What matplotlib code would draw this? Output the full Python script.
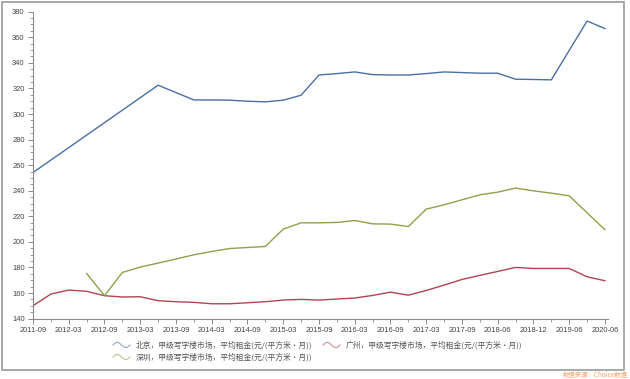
import numpy as np
import matplotlib
matplotlib.use("Agg")
import matplotlib.pyplot as plt
from matplotlib.lines import Line2D
from matplotlib.patches import Rectangle

plt.rcParams['font.family'] = ['Liberation Sans', 'Noto Sans CJK SC', 'DejaVu Sans']

# quarterly observation dates (only every other one is labelled on the axis)
dates = ['2011-09', '2011-12', '2012-03', '2012-06', '2012-09', '2012-12',
         '2013-03', '2013-06', '2013-09', '2013-12', '2014-03', '2014-06',
         '2014-09', '2014-12', '2015-03', '2015-06', '2015-09', '2015-12',
         '2016-03', '2016-06', '2016-09', '2016-12', '2017-03', '2017-06',
         '2017-09', '2017-12', '2018-06', '2018-09', '2018-12', '2019-03',
         '2019-06', '2019-12', '2020-06']

nan = np.nan
beijing = [254.2, nan, nan, nan, nan, nan, nan, 322.5, nan, 311.0, 311.0,
           310.8, 310.0, 309.5, 310.8, 314.7, 330.5, 331.6, 332.9, 330.8,
           330.5, 330.5, 331.6, 332.9, 332.4, 331.9, 331.9, 327.2, 327.0,
           326.7, nan, 372.7, 366.8]
guangzhou = [150.1, 159.2, 162.3, 161.3, 157.9, 156.9, 157.1, 154.0, 153.2,
             152.7, 151.6, 151.6, 152.4, 153.2, 154.5, 155.0, 154.5, 155.3,
             156.1, 158.1, 160.7, 158.3, 162.0, 166.2, 170.6, 173.8, 176.9,
             180.0, 179.2, 179.2, 179.2, 172.7, 169.6]
shenzhen = [nan, nan, nan, 175.3, 157.9, 176.1, 180.3, 183.4, 186.6, 189.9,
            192.5, 194.8, 195.6, 196.4, 210.0, 214.9, 214.9, 215.2, 216.7,
            214.1, 213.9, 212.0, 225.6, 229.0, 232.9, 236.8, 238.9, 242.1,
            239.9, 238.1, 236.0, nan, 209.5]

labels = ['北京，甲级写字楼市场，平均租金(元/(平方米·月))',
          '广州，甲级写字楼市场，平均租金(元/(平方米·月))',
          '深圳，甲级写字楼市场，平均租金(元/(平方米·月))']
colors = ['#4a6fa5', '#b0454f', '#8da24a']

W, H = 630, 379
fig = plt.figure(figsize=(W / 100, H / 100), dpi=100)
ax = fig.add_axes([33 / W, (H - 318.6) / H, 575 / W, (318.6 - 11.7) / H])

x = np.arange(len(dates))
for vals, c in zip([beijing, guangzhou, shenzhen], colors):
    v = np.array(vals, dtype=float)
    ok = ~np.isnan(v)
    ax.plot(x[ok], v[ok], color=c, lw=1.0, solid_joinstyle='round')

ax.set_xlim(0, 32.17)
ax.set_ylim(140, 380)
ax.set_xticks(x[::2])
ax.set_xticklabels(dates[::2])
ax.set_xticks(x[1::2], minor=True)
ax.set_yticks(np.arange(140, 381, 20))
ax.set_yticks(np.arange(140, 381, 5), minor=True)

for s in ['top', 'right']:
    ax.spines[s].set_visible(False)
for s in ['left', 'bottom']:
    ax.spines[s].set_color('#8a8a8a')
    ax.spines[s].set_linewidth(0.8)
ax.tick_params(which='major', length=3.5, width=0.7, color='#8a8a8a',
               labelsize=5.4, labelcolor='#444444', pad=2.5)
ax.tick_params(which='minor', length=2, width=0.6, color='#8a8a8a')

# outer frame
fig.add_artist(Rectangle((1.5 / W, (H - 370) / H), 622 / W, 368.5 / H,
                         transform=fig.transFigure, fill=False,
                         edgecolor='#9a9a9a', lw=1.2))

# legend with wavy markers
def legend_item(px, py, color, text):
    t = np.linspace(0, 2 * np.pi, 50)
    xs = (px + t / (2 * np.pi) * 17) / W
    ys = (H - py + 2.6 * np.sin(t)) / H
    fig.add_artist(Line2D(xs, ys, transform=fig.transFigure, color=color,
                          lw=0.8, alpha=0.6))
    fig.text((px + 23) / W, (H - py) / H, text, fontsize=5.6,
             color='#555555', va='center', ha='left',
             family=['Noto Sans CJK SC', 'DejaVu Sans'])

legend_item(113, 345, colors[0], labels[0])
legend_item(323, 345, colors[1], labels[1])
legend_item(113, 357, colors[2], labels[2])

fig.text(628 / W, (H - 375) / H, '数据来源：Choice数据', fontsize=4.6,
         color='#f2a46a', ha='right', va='center',
         family=['Noto Sans CJK SC', 'DejaVu Sans'])

fig.savefig('out.png', dpi=100, facecolor='white')
